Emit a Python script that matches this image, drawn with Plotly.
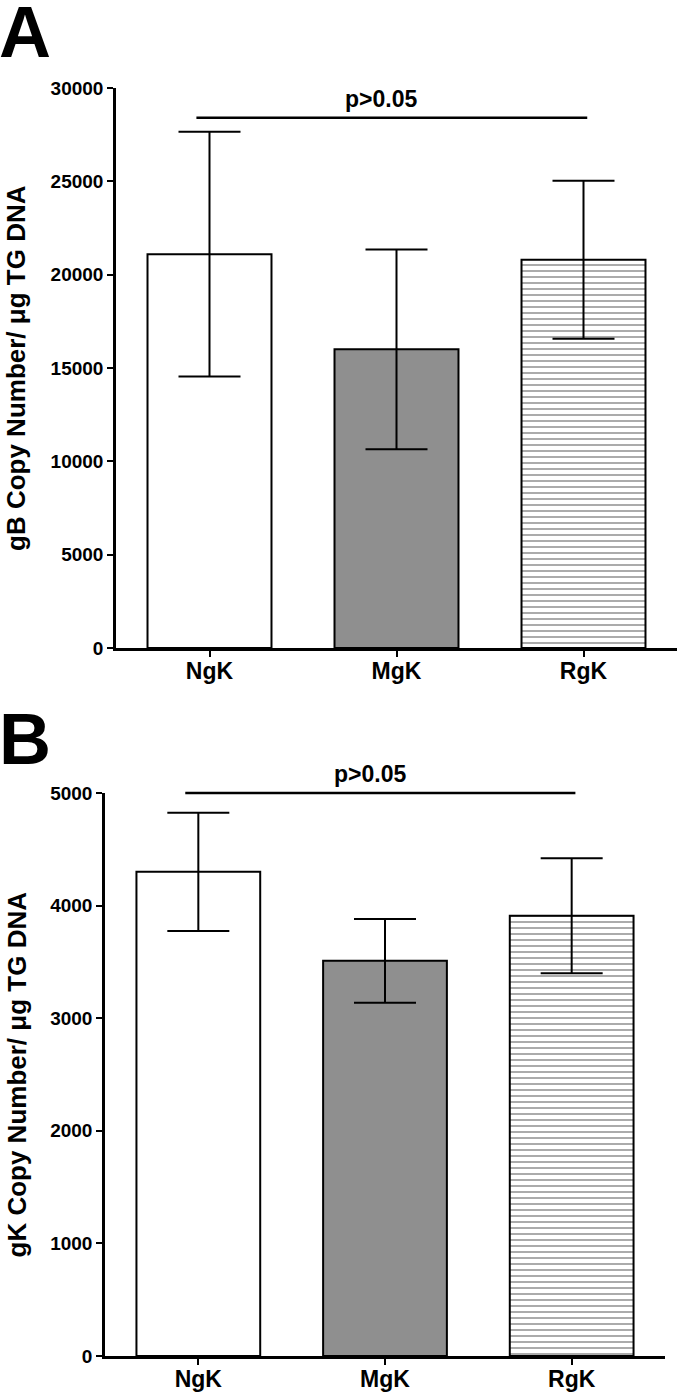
import plotly.graph_objects as go

categories = ["NgK", "MgK", "RgK"]

# Panel A: gB copy number
gb_means = [21100, 16000, 20800]
gb_err = [6550, 5350, 4230]

# Panel B: gK copy number
gk_means = [4300, 3510, 3910]
gk_err = [525, 372, 510]

gb_ticks = [0, 5000, 10000, 15000, 20000, 25000, 30000]
gk_ticks = [0, 1000, 2000, 3000, 4000, 5000]

sig_text = "p>0.05"
sig_a_y = 28400
sig_b_y = 5000
sig_span = [-0.07, 2.02]  # from just left of NgK to just right of RgK centre

bar_colors = ["#ffffff", "#8f8f8f", "#ffffff"]
bar_patterns = ["", "", "-"]

W, H = 680, 1393
FONT = "Liberation Sans, Arial, Helvetica, sans-serif"
xpos = list(range(len(categories)))
XRANGE = [-0.5, 2.5]


def px_x(p):
    return p / W


def px_y(p):
    return 1 - p / H


panels = [
    dict(means=gb_means, errs=gb_err, xa="x", ya="y", sig=sig_a_y,
         xdom=[px_x(116), px_x(677)], ydom=[px_y(648), px_y(88)], yrange=[0, 30000],
         ticks=gb_ticks, title="gB Copy Number/ μg TG DNA", letter="A", letter_top=-9),
    dict(means=gk_means, errs=gk_err, xa="x2", ya="y2", sig=sig_b_y,
         xdom=[px_x(105), px_x(665)], ydom=[px_y(1356), px_y(793)], yrange=[0, 5000],
         ticks=gk_ticks, title="gK Copy Number/ μg TG DNA", letter="B", letter_top=698),
]


def to_paper(v, rng, dom):
    return dom[0] + (v - rng[0]) / (rng[1] - rng[0]) * (dom[1] - dom[0])


fig = go.Figure()

axis_common = dict(
    showgrid=False, zeroline=False, showline=True, linecolor="black", linewidth=2.5,
    ticks="outside", tickwidth=2, tickcolor="black", ticklen=6, automargin=False,
    tickfont=dict(family=FONT, size=19, color="black", weight="bold"),
)
xfont = dict(family=FONT, size=23, color="black", weight="bold")

layout_axes = {}
for i, p in enumerate(panels):
    fig.add_trace(go.Bar(
        x=xpos, y=p["means"], xaxis=p["xa"], yaxis=p["ya"],
        width=0.663,
        marker=dict(
            color=bar_colors,
            line=dict(color="black", width=2),
            pattern=dict(shape=bar_patterns, size=6, solidity=0.3,
                         fgcolor="#686868", bgcolor="#ffffff", fillmode="overlay"),
        ),
        error_y=dict(type="data", array=p["errs"], visible=True, color="black",
                     thickness=2, width=31),
        showlegend=False, hoverinfo="skip",
    ))
    suffix = "" if i == 0 else str(i + 1)
    layout_axes["xaxis" + suffix] = dict(
        domain=p["xdom"], anchor="y" + suffix, range=XRANGE,
        tickvals=xpos, ticktext=categories, ticklabelstandoff=-5,
        **{**axis_common, "tickfont": xfont})
    layout_axes["yaxis" + suffix] = dict(
        domain=p["ydom"], anchor="x" + suffix, range=p["yrange"],
        tickvals=p["ticks"], ticktext=[str(t) for t in p["ticks"]], **axis_common)

    # significance bar (drawn in paper space so it is not clipped at the axis top)
    sy = to_paper(p["sig"], p["yrange"], p["ydom"])
    fig.add_shape(type="line", xref="paper", yref="paper",
                  x0=to_paper(sig_span[0], XRANGE, p["xdom"]),
                  x1=to_paper(sig_span[1], XRANGE, p["xdom"]),
                  y0=sy, y1=sy, line=dict(color="black", width=2.5))
    fig.add_annotation(xref="paper", yref="paper",
                       x=to_paper(1, XRANGE, p["xdom"]), y=sy, text=sig_text,
                       showarrow=False, yanchor="bottom", xshift=-15, yshift=4,
                       font=dict(family=FONT, size=23, color="black", weight="bold"))

    # y-axis title
    fig.add_annotation(xref="paper", yref="paper", x=px_x(16),
                       y=(p["ydom"][0] + p["ydom"][1]) / 2, text=p["title"],
                       textangle=-90, showarrow=False, xanchor="center", yanchor="middle",
                       font=dict(family=FONT, size=26, color="black", weight="bold"))

    # panel letter
    fig.add_annotation(xref="paper", yref="paper", x=px_x(-2), y=px_y(p["letter_top"]),
                       xanchor="left", yanchor="top", text=p["letter"], showarrow=False,
                       borderpad=0,
                       font=dict(family=FONT, size=72, color="black", weight="bold"))

fig.update_layout(
    width=W, height=H,
    margin=dict(l=0, r=0, t=0, b=0, autoexpand=False),
    plot_bgcolor="white", paper_bgcolor="white",
    **layout_axes,
)

fig.write_html(
    "out.html",
    config={"displayModeBar": False},
    post_script="document.body.style.margin='0';document.body.style.overflow='hidden';",
)
